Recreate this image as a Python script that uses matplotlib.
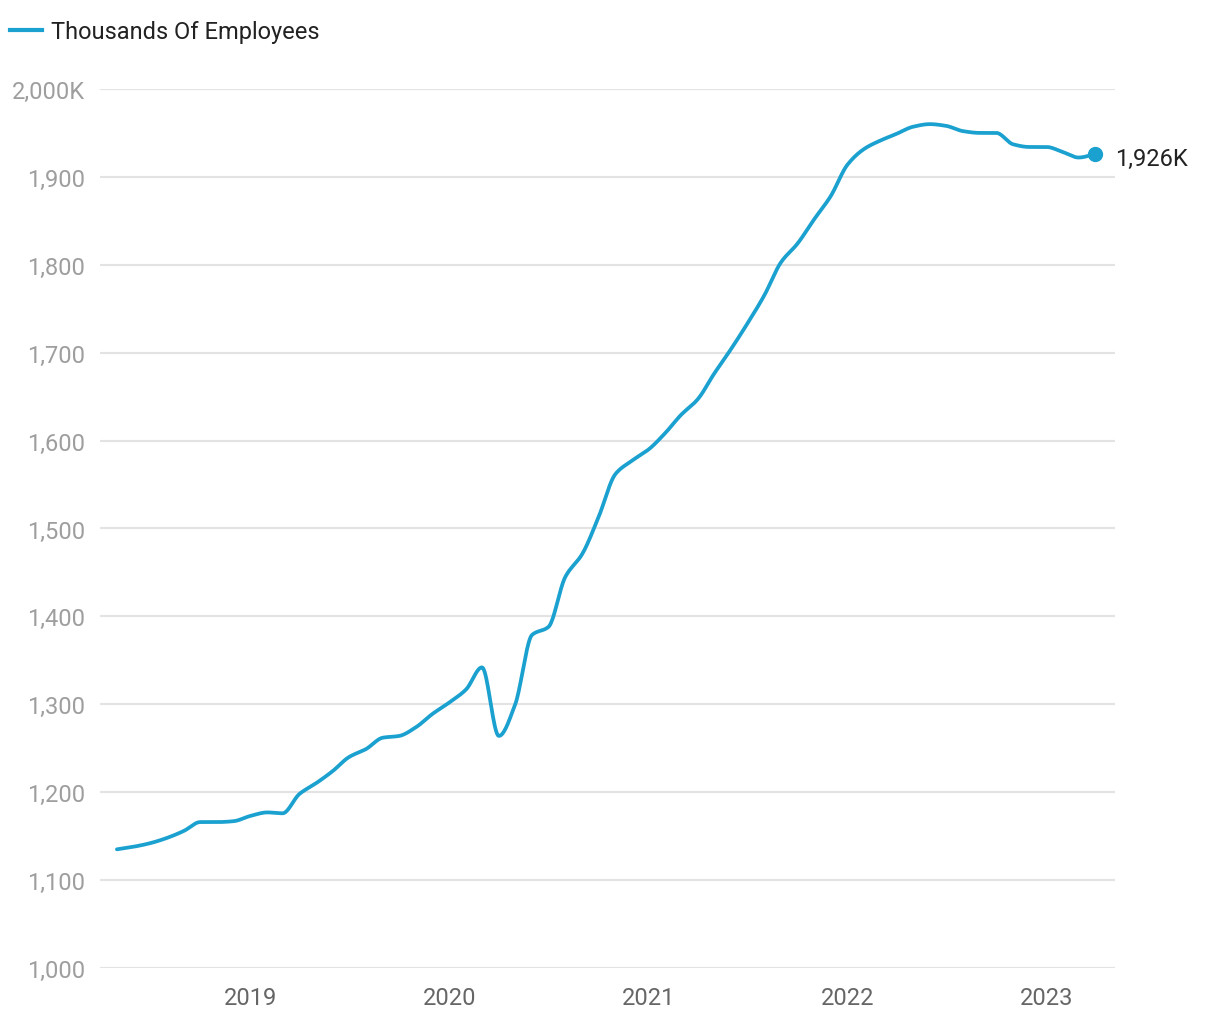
import numpy as np
import pandas as pd
import matplotlib
matplotlib.use("Agg")
import matplotlib.pyplot as plt
import matplotlib.dates as mdates
from matplotlib.ticker import FuncFormatter

# 月度数据 2018-05 .. 2023-04
months = pd.date_range("2018-05-01", "2023-04-01", freq="MS")
employees = [
    1135, 1138, 1142, 1148, 1156, 1166, 1166, 1167,
    1173, 1177, 1176, 1198, 1210, 1224, 1240, 1249, 1262, 1264, 1274, 1289,
    1302, 1317, 1342, 1264, 1300, 1379, 1388, 1445, 1471, 1513, 1562, 1577,
    1590, 1609, 1629, 1647, 1676, 1704, 1733, 1765, 1803, 1824, 1852, 1878,
    1914, 1932, 1941, 1949, 1957, 1960, 1958, 1952, 1950, 1950, 1937, 1934,
    1934, 1928, 1922, 1926,
]
series_name = "Thousands Of Employees"
year_ticks = ["2019", "2020", "2021", "2022", "2023"]
y_ticks = [1000, 1100, 1200, 1300, 1400, 1500, 1600, 1700, 1800, 1900, 2000]

LINE = "#1ba1cf"

plt.rcParams["font.family"] = ["Roboto", "DejaVu Sans"]


def pchip(x, y, n=20):
    # 单调三次插值, 仅用于平滑画线
    x = np.asarray(x, float)
    y = np.asarray(y, float)
    h = np.diff(x)
    d = np.diff(y) / h
    m = np.zeros_like(y)
    for k in range(1, len(y) - 1):
        if d[k - 1] * d[k] > 0:
            w1 = 2 * h[k] + h[k - 1]
            w2 = h[k] + 2 * h[k - 1]
            m[k] = (w1 + w2) / (w1 / d[k - 1] + w2 / d[k])
    m[0] = d[0]
    m[-1] = d[-1]
    xs, ys = [], []
    for k in range(len(h)):
        t = np.linspace(0, 1, n, endpoint=False)
        h00 = 2 * t**3 - 3 * t**2 + 1
        h10 = t**3 - 2 * t**2 + t
        h01 = -2 * t**3 + 3 * t**2
        h11 = t**3 - t**2
        xs.append(x[k] + t * h[k])
        ys.append(h00 * y[k] + h10 * h[k] * m[k] + h01 * y[k + 1] + h11 * h[k] * m[k + 1])
    xs.append([x[-1]])
    ys.append([y[-1]])
    return np.concatenate(xs), np.concatenate(ys)


fig = plt.figure(figsize=(12.2, 10.2), dpi=100)
ax = fig.add_axes([0.082, 0.05, 0.832, 0.8618])

xnum = mdates.date2num(months)
sx, sy = pchip(xnum, employees)
ax.plot(sx, sy, color=LINE, lw=2.7, solid_capstyle="round", zorder=3)
ax.plot(xnum[-1], employees[-1], "o", color=LINE, ms=10, zorder=4)
ax.annotate(f"{employees[-1]:,}K", (xnum[-1], employees[-1]), xytext=(14, -3),
            textcoords="offset points", va="center", ha="left",
            fontsize=17, color="#222222")

ax.set_xlim(mdates.date2num(pd.Timestamp("2018-03-31")),
            mdates.date2num(pd.Timestamp("2023-05-07")))
ax.set_ylim(1000, 2000)
ax.set_yticks(y_ticks)
ax.yaxis.set_major_formatter(FuncFormatter(
    lambda v, p: f"{int(v):,}K" if v == 2000 else f"{int(v):,}"))
ax.set_xticks([mdates.date2num(pd.Timestamp(f"{y}-01-01")) for y in year_ticks])
ax.set_xticklabels(year_ticks)

ax.grid(axis="y", color="#e3e3e3", lw=1.5)
ax.set_axisbelow(True)
for s in ax.spines.values():
    s.set_visible(False)
ax.tick_params(axis="y", length=0, pad=11, labelsize=17, labelcolor="#9e9e9e")
ax.tick_params(axis="x", length=0, pad=13, labelsize=17, labelcolor="#666666")

# 图例
fig.lines.append(plt.Line2D([10 / 1220, 42 / 1220], [1 - 31 / 1020] * 2,
                            transform=fig.transFigure, color=LINE, lw=3))
fig.text(51 / 1220, 1 - 32 / 1020, series_name, fontsize=17, color="#222222",
         va="center", ha="left")

fig.savefig("out.png", dpi=100)
